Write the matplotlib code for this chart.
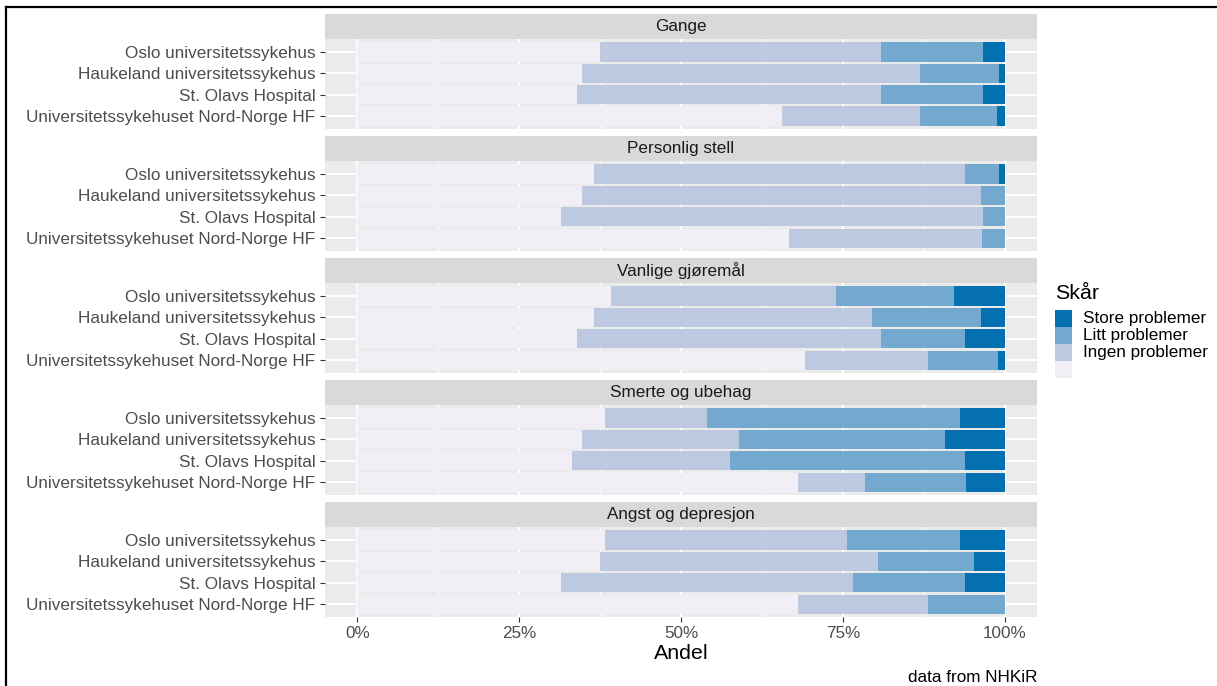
import matplotlib
matplotlib.use("Agg")
import matplotlib.pyplot as plt
import numpy as np

plt.rcParams['font.family'] = ['Liberation Sans', 'DejaVu Sans']

# -----------------------------
# DATA (percent of patients)
# -----------------------------
FACETS = ["Gange", "Personlig stell", "Vanlige gjøremål",
          "Smerte og ubehag", "Angst og depresjon"]
HOSPITALS = ["Oslo universitetssykehus", "Haukeland universitetssykehus",
             "St. Olavs Hospital", "Universitetssykehuset Nord-Norge HF"]
LEVELS = ["", "Ingen problemer", "Litt problemer", "Store problemer"]

# one row per facet, one value per hospital
blank_share = [
    [37.5, 34.7, 33.9, 65.6],
    [36.6, 34.7, 31.4, 66.7],
    [39.2, 36.6, 34.0, 69.1],
    [38.3, 34.7, 33.2, 68.0],
    [38.3, 37.5, 31.4, 68.0],
]
ingen_share = [
    [43.4, 52.3, 47.0, 21.3],
    [57.3, 61.6, 65.2, 29.8],
    [34.7, 42.9, 46.9, 19.1],
    [15.7, 24.2, 24.3, 10.5],
    [37.4, 43.0, 45.1, 20.1],
]
litt_share = [
    [15.7, 12.1, 15.7, 11.9],
    [5.2, 3.7, 3.4, 3.5],
    [18.3, 16.8, 13.0, 10.7],
    [39.1, 31.9, 36.4, 15.5],
    [17.4, 14.8, 17.4, 11.9],
]
store_share = [
    [3.4, 0.9, 3.4, 1.2],
    [0.9, 0.0, 0.0, 0.0],
    [7.8, 3.7, 6.1, 1.1],
    [6.9, 9.2, 6.1, 6.0],
    [6.9, 4.7, 6.1, 0.0],
]

X_TICKS = [0, 0.25, 0.5, 0.75, 1.0]
X_LABELS = ["0%", "25%", "50%", "75%", "100%"]

# PuBu palette, lightest -> darkest
COLORS = ["#F1EEF6", "#BDC9E1", "#74A9CF", "#0570B0"]

# -----------------------------
# LAYOUT (pixels)
# -----------------------------
W, H = 1217, 686
PANEL_X, PANEL_W = 325, 712
TOP = 14
STRIP_H, PANEL_H, GAP = 25, 90, 7
TICK_FS = 12.3
TITLE_FS = 15.4


def rect(x, y_top, w, h):
    return [x / W, 1 - (y_top + h) / H, w / W, h / H]


fig = plt.figure(figsize=(W / 100, H / 100), dpi=100)
fig.patch.set_facecolor("white")

ypos = np.arange(len(HOSPITALS))[::-1]

for i, facet in enumerate(FACETS):
    strip_top = TOP + i * (STRIP_H + PANEL_H + GAP)

    # strip
    sax = fig.add_axes(rect(PANEL_X, strip_top, PANEL_W, STRIP_H))
    sax.set_facecolor("#D9D9D9")
    sax.set_xticks([])
    sax.set_yticks([])
    for s in sax.spines.values():
        s.set_visible(False)
    sax.text(0.5, 0.5, facet, ha="center", va="center",
             fontsize=TICK_FS, color="#1A1A1A", transform=sax.transAxes)

    # panel
    ax = fig.add_axes(rect(PANEL_X, strip_top + STRIP_H, PANEL_W, PANEL_H))
    ax.set_facecolor("#EBEBEB")
    for s in ax.spines.values():
        s.set_visible(False)

    shares = [blank_share[i], ingen_share[i], litt_share[i], store_share[i]]
    left = np.zeros(len(HOSPITALS))
    for vals, col in zip(shares, COLORS):
        v = np.array(vals) / 100.0
        ax.barh(ypos, v, left=left, height=0.9, color=col, lw=0, zorder=2)
        left += v

    ax.set_xlim(-0.05, 1.05)
    ax.set_ylim(-0.6, len(HOSPITALS) - 0.4)
    ax.set_xticks(X_TICKS)
    ax.set_xticks([0.125, 0.375, 0.625, 0.875], minor=True)
    ax.set_yticks(ypos)
    ax.set_yticklabels(HOSPITALS, fontsize=TICK_FS, color="#4D4D4D")
    ax.grid(which="major", color="white", lw=1.4, zorder=0)
    ax.grid(which="minor", axis="x", color="white", lw=0.7, zorder=0)
    ax.set_axisbelow(True)
    ax.tick_params(axis="y", length=3.8, width=0.8, color="#333333", pad=3)
    ax.tick_params(which="minor", length=0)
    if i == len(FACETS) - 1:
        ax.set_xticklabels(X_LABELS, fontsize=TICK_FS, color="#4D4D4D")
        ax.tick_params(axis="x", length=3.8, width=0.8, color="#333333", pad=3)
        ax.set_xlabel("Andel", fontsize=TITLE_FS, color="black", labelpad=2)
    else:
        ax.tick_params(axis="x", length=0, labelbottom=False)

# caption
fig.text((PANEL_X + PANEL_W) / W, 1 - 677 / H, "data from NHKiR",
         ha="right", va="center", fontsize=TICK_FS, color="black")

# legend (drawn as a tiny axes)
lax = fig.add_axes(rect(1055, 310, 17, 68))
lax.set_xlim(0, 1)
lax.set_ylim(0, 4)
lax.axis("off")
key_y = np.arange(4) + 0.5  # bottom -> top: blank, ingen, litt, store
lax.barh(key_y, [1, 1, 1, 1], height=1.0, color=COLORS, lw=0)
for y, lab in zip(key_y, LEVELS):
    lax.text(1.65, y, lab, ha="left", va="center", fontsize=TICK_FS,
             color="black", clip_on=False)
lax.text(0, 4.95, "Skår", ha="left", va="center", fontsize=TITLE_FS,
         color="black", clip_on=False)

# outer frame (top and left visible)
fig.add_artist(plt.Line2D([6 / W, 6 / W], [0, 1 - 7 / H], color="black",
                          lw=1.6, transform=fig.transFigure))
fig.add_artist(plt.Line2D([6 / W, 1], [1 - 7 / H, 1 - 7 / H], color="black",
                          lw=1.6, transform=fig.transFigure))

fig.savefig("out.png", dpi=100)
